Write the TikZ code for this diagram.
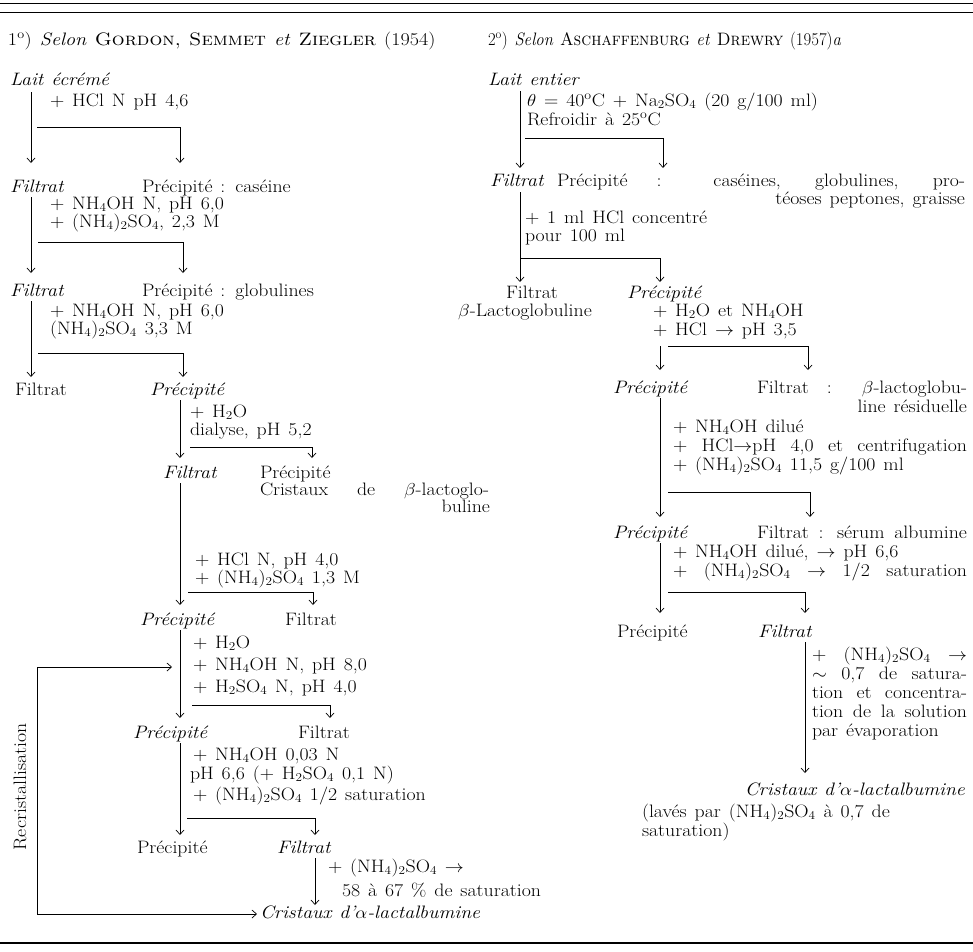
\documentclass[tikz,border=0pt]{standalone}
\usepackage{graphicx}
\usetikzlibrary{arrows.meta}
\newcommand\myfs{\fontsize{18}{21}\selectfont\spaceskip=0.4em plus 0.6em minus 0.15em\relax}
\newcommand\XS[1]{\scalebox{1.1}[1]{#1}}
\newcommand\XJ[2]{\scalebox{1.1}[1]{\makebox[\dimexpr #1pt*10/11\relax][s]{#2}}}
\tikzset{
  tx/.style={inner sep=0pt, outer sep=0pt, anchor=base west, font=\myfs},
  txe/.style={tx, anchor=base east},
  txc/.style={tx, anchor=base},
  ln/.style={line width=0.7pt},
  ar/.style={ln, -{Straight Barb[length=4.5pt,width=8pt]}},
  arr2/.style={ln, {Straight Barb[length=4.5pt,width=8pt]}-{Straight Barb[length=4.5pt,width=8pt]}},
  hrule/.style={line width=#1},
}
\begin{document}
\begin{tikzpicture}[x=1pt,y=-1pt]
\useasboundingbox (0,0) rectangle (973,951);
% rules
\draw[hrule=1.6pt] (0,3.5) coordinate (rt1a) -- (973,3.5) coordinate (rt1b);
\draw[hrule=0.8pt] (0,12.5) coordinate (rt2a) -- (973,12.5) coordinate (rt2b);
\draw[hrule=1.4pt] (0,943) coordinate (rb1a) -- (973,943) coordinate (rb1b);

% ---------------- left column ----------------
\node[tx] (title1) at (8,45) {\scalebox{1.12}[1]{1\textsuperscript{o}) \textit{Selon} \textsc{Gordon, Semmet} \textit{et} \textsc{Ziegler} (1954)}};
\node[tx] (lait1) at (10,85) {\XS{\textit{Lait écrémé}}};
\node[tx] (r1) at (50,106) {\XS{+ HCl N pH 4,6}};
\node[tx] (f1) at (10,192) {\XS{\textit{Filtrat}}};
\node[tx] (p1) at (142,192) {\XS{Précipité : caséine}};
\node[tx] (r2a) at (50,209) {\XS{+ NH$_4$OH N, pH 6,0}};
\node[tx] (r2b) at (50,227) {\XS{+ (NH$_4$)$_2$SO$_4$, 2,3 M}};
\node[tx] (f2) at (10,296) {\XS{\textit{Filtrat}}};
\node[tx] (p2) at (142,296) {\XS{Précipité : globulines}};
\node[tx] (r3a) at (50,316) {\XS{+ NH$_4$OH N, pH 6,0}};
\node[tx] (r3b) at (50,334) {\XS{(NH$_4$)$_2$SO$_4$ 3,3 M}};
\node[tx] (f3) at (15,395) {\XS{Filtrat}};
\node[tx] (p3) at (150,395) {\XS{\textit{Précipité}}};
\node[tx] (r4a) at (190,417) {\XS{+ H$_2$O}};
\node[tx] (r4b) at (190,435) {\XS{dialyse, pH 5,2}};
\node[tx] (f4) at (163,478) {\XS{\textit{Filtrat}}};
\node[tx] (p4) at (260,478) {\XS{Précipité}};
\node[tx] (p4b) at (260,495) {\XJ{229}{Cristaux de $\beta$-lactoglo-}};
\node[txe] (p4c) at (490,512) {\XS{buline}};
\node[tx] (r5a) at (195,565) {\XS{+ HCl N, pH 4,0}};
\node[tx] (r5b) at (195,583) {\XS{+ (NH$_4$)$_2$SO$_4$ 1,3 M}};
\node[tx] (p5) at (140,625) {\XS{\textit{Précipité}}};
\node[tx] (f5) at (285,625) {\XS{Filtrat}};
\node[tx] (r6a) at (193,648) {\XS{+ H$_2$O}};
\node[tx] (r6b) at (193,670) {\XS{+ NH$_4$OH N, pH 8,0}};
\node[tx] (r6c) at (193,692) {\XS{+ H$_2$SO$_4$ N, pH 4,0}};
\node[tx] (p6) at (133,738) {\XS{\textit{Précipité}}};
\node[tx] (f6) at (298,738) {\XS{Filtrat}};
\node[tx] (r7a) at (193,760) {\XS{+ NH$_4$OH 0,03 N}};
\node[tx] (r7b) at (190,779) {\XS{pH 6,6 (+ H$_2$SO$_4$ 0,1 N)}};
\node[tx] (r7c) at (193,800) {\XS{+ (NH$_4$)$_2$SO$_4$ 1/2 saturation}};
\node[tx] (p7) at (137,853) {\XS{Précipité}};
\node[tx] (f7) at (277,853) {\XS{\textit{Filtrat}}};
\node[tx] (r8a) at (328,872) {\XS{+ (NH$_4$)$_2$SO$_4$ $\rightarrow$}};
\node[tx] (r8b) at (342,896) {\XS{58 à 67 \% de saturation}};
\node[tx] (cr1) at (260,918) {\XS{\textit{Cristaux d'$\alpha$-lactalbumine}}};
\node[tx, anchor=center, rotate=90] (recr) at (20,787) {\XS{Recristallisation}};

\draw[ar] (31,92) coordinate (a1s) -- (31,163) coordinate (a1e);
\draw[ar] (37,127) coordinate (a2s) -- (180,127) coordinate (a2c) -- (180,163) coordinate (a2e);
\draw[ar] (31,197) coordinate (a3s) -- (31,273) coordinate (a3e);
\draw[ar] (38,242) coordinate (a4s) -- (183,242) coordinate (a4c) -- (183,273) coordinate (a4e);
\draw[ar] (31,301) coordinate (a5s) -- (31,377) coordinate (a5e);
\draw[ar] (38,353) coordinate (a6s) -- (183,353) coordinate (a6c) -- (183,377) coordinate (a6e);
\draw[ar] (180,400) coordinate (a7s) -- (180,458) coordinate (a7e);
\draw[ar] (190,447) coordinate (a8s) -- (312,447) coordinate (a8c) -- (312,458) coordinate (a8e);
\draw[ar] (180,483) coordinate (a9s) -- (180,605) coordinate (a9e);
\draw[ar] (188,592) coordinate (a10s) -- (313,592) coordinate (a10c) -- (313,605) coordinate (a10e);
\draw[ar] (180,630) coordinate (a11s) -- (180,718) coordinate (a11e);
\draw[ar] (192,705) coordinate (a12s) -- (330,705) coordinate (a12c) -- (330,718) coordinate (a12e);
\draw[ar] (180,743) coordinate (a13s) -- (180,835) coordinate (a13e);
\draw[ar] (187,818) coordinate (a14s) -- (315,818) coordinate (a14c) -- (315,835) coordinate (a14e);
\draw[ar] (315,858) coordinate (a15s) -- (315,905) coordinate (a15e);
\draw[arr2] (172,667) coordinate (rc1) -- (37,667) coordinate (rc2) -- (37,914) coordinate (rc3) -- (257,914) coordinate (rc4);

% ---------------- right column ----------------
\node[tx] (title2) at (488,45) {\scalebox{0.93}[1]{2\textsuperscript{o}) \textit{Selon} \textsc{Aschaffenburg} \textit{et} \textsc{Drewry} (1957)\textit{a}}};
\node[tx] (lait2) at (488,85) {\XS{\textit{Lait entier}}};
\node[tx] (q1a) at (527,106) {\XS{$\theta$ = 40\textsuperscript{o}C + Na$_2$SO$_4$ (20 g/100 ml)}};
\node[tx] (q1b) at (527,125) {\XS{Refroidir à 25\textsuperscript{o}C}};
\node[tx] (ff1) at (490,186) {\XS{\textit{Filtrat}}};
\node[tx] (pp1) at (557,186) {\XJ{408}{Précipité : caséines, globulines, pro-}};
\node[txe] (pp1b) at (965,204) {\XS{téoses peptones, graisse}};
\node[tx] (q2a) at (525,223) {\XS{+ 1 ml HCl concentré}};
\node[tx] (q2b) at (525,241) {\XS{pour 100 ml}};
\node[txc] (ff2) at (532,298) {\XS{Filtrat}};
\node[txc] (ff2b) at (525,316) {\XS{$\beta$-Lactoglobuline}};
\node[tx] (pp2) at (627,298) {\XS{\textit{Précipité}}};
\node[tx] (q3a) at (653,316) {\XS{+ H$_2$O et NH$_4$OH}};
\node[tx] (q3b) at (653,335) {\XS{+ HCl $\rightarrow$ pH 3,5}};
\node[tx] (pp3) at (613,393) {\XS{\textit{Précipité}}};
\node[tx] (ff3) at (757,393) {\XJ{210}{Filtrat : $\beta$-lactoglobu-}};
\node[txe] (ff3b) at (967,412) {\XS{line résiduelle}};
\node[tx] (q4a) at (673,432) {\XS{+ NH$_4$OH dilué}};
\node[tx] (q4b) at (673,451) {\XJ{294}{+ HCl$\rightarrow$pH 4,0 et centrifugation}};
\node[tx] (q4c) at (673,470) {\XS{+ (NH$_4$)$_2$SO$_4$ 11,5 g/100 ml}};
\node[tx] (pp4) at (613,538) {\XS{\textit{Précipité}}};
\node[tx] (ff4) at (757,538) {\XJ{210}{Filtrat : sérum albumine}};
\node[tx] (q5a) at (673,557) {\XS{+ NH$_4$OH dilué, $\rightarrow$ pH 6,6}};
\node[tx] (q5b) at (673,576) {\XJ{294}{+ (NH$_4$)$_2$SO$_4$ $\rightarrow$ 1/2 saturation}};
\node[tx] (pp5) at (617,637) {\XS{Précipité}};
\node[tx] (ff5) at (758,637) {\XS{\textit{Filtrat}}};
\node[tx] (q6a) at (812,660) {\XJ{155}{+ (NH$_4$)$_2$SO$_4$ $\rightarrow$}};
\node[tx] (q6b) at (812,679) {\XJ{155}{$\sim$ 0,7 de satura-}};
\node[tx] (q6c) at (812,698) {\XJ{155}{tion et concentra-}};
\node[tx] (q6d) at (812,717) {\XJ{155}{tion de la solution}};
\node[tx] (q6e) at (812,736) {\XS{par évaporation}};
\node[txe] (cr2) at (965,795) {\XS{\textit{Cristaux d'$\alpha$-lactalbumine}}};
\node[tx] (cr2b) at (642,817) {\XS{(lavés par (NH$_4$)$_2$SO$_4$ à 0,7 de}};
\node[tx] (cr2c) at (642,836) {\XS{saturation)}};

\draw[ar] (520,91) coordinate (b1s) -- (520,168) coordinate (b1e);
\draw[ar] (525,138) coordinate (b2s) -- (663,138) coordinate (b2c) -- (663,168) coordinate (b2e);
\draw[ar] (520,192) coordinate (b3s) -- (520,282) coordinate (b3e);
\draw[ar] (521,258) coordinate (b4s) -- (660,258) coordinate (b4c) -- (660,282) coordinate (b4e);
\draw[ar] (660,346) coordinate (b5s) -- (660,370) coordinate (b5e);
\draw[ar] (668,346) coordinate (b6s) -- (808,346) coordinate (b6c) -- (808,370) coordinate (b6e);
\draw[ar] (660,398) coordinate (b7s) -- (660,517) coordinate (b7e);
\draw[ar] (668,492) coordinate (b8s) -- (810,492) coordinate (b8c) -- (810,517) coordinate (b8e);
\draw[ar] (660,543) coordinate (b9s) -- (660,613) coordinate (b9e);
\draw[ar] (668,592) coordinate (b10s) -- (805,592) coordinate (b10c) -- (805,613) coordinate (b10e);
\draw[ar] (805,642) coordinate (b11s) -- (805,773) coordinate (b11e);
\end{tikzpicture}
\end{document}
